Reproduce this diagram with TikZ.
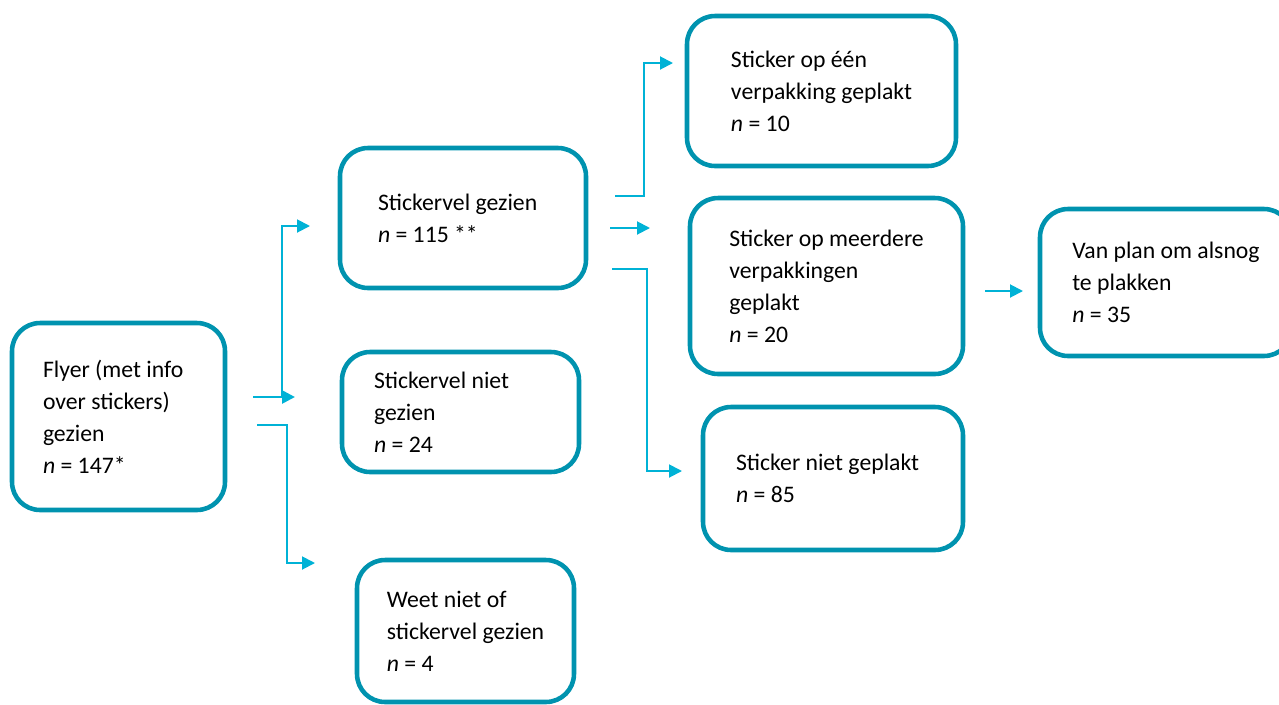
\documentclass[tikz,border=0pt]{standalone}
\usepackage{fontspec}
\setmainfont{Carlito}
\usepackage{tikz}
\usetikzlibrary{arrows.meta}
\definecolor{boxteal}{RGB}{0,147,175}
\definecolor{linecyan}{RGB}{0,178,214}
\tikzset{
  flowbox/.style={rectangle, draw=boxteal, line width=2.6pt,
    rounded corners=0.56cm, align=flush left, inner sep=0pt,
    font=\fontsize{13.5}{18.2}\selectfont},
  conn/.style={-{Triangle[length=0.26cm, width=0.26cm]},
    line width=1.1pt, color=linecyan}
}

\begin{document}
\begin{tikzpicture}[x=0.02cm, y=-0.02cm]
  \useasboundingbox (0,0) rectangle (1279,704);
  % ── Boxes ─────────────────────────────────────────────────────────────────
  \node[flowbox, minimum width=4.26cm, minimum height=3.74cm, text width=3.02cm] (flyer) at (118.5,416.5)
    {Flyer (met info\\over stickers)\\gezien\\\textit{n} = 147*};
  \node[flowbox, minimum width=4.92cm, minimum height=2.8cm, text width=3.4cm] (gezien) at (463,218)
    {Stickervel gezien\\\textit{n} = 115 **};
  \node[flowbox, minimum width=4.74cm, minimum height=2.4cm, text width=3.46cm] (nietgezien) at (460.5,412)
    {Stickervel niet\\gezien\\\textit{n} = 24};
  \node[flowbox, minimum width=4.34cm, minimum height=2.84cm] (weetniet) at (465.5,631)
    {Weet niet of\\stickervel gezien\\\textit{n} = 4};
  \node[flowbox, minimum width=5.38cm, minimum height=3.0cm] (een) at (821.5,91)
    {Sticker op één\\verpakking geplakt\\\textit{n} = 10};
  \node[flowbox, minimum width=5.46cm, minimum height=3.52cm] (meerdere) at (826.5,286)
    {Sticker op meerdere\\verpakkingen\\geplakt\\\textit{n} = 20};
  \node[flowbox, minimum width=5.2cm, minimum height=2.86cm, text width=3.88cm] (nietgeplakt) at (833,478.5)
    {Sticker niet geplakt\\\textit{n} = 85};
  \node[flowbox, minimum width=5.04cm, minimum height=2.94cm] (vanplan) at (1166,282.5)
    {Van plan om alsnog\\te plakken\\\textit{n} = 35};

  % ── Connector ends (lines stop short of the boxes) ──────────────────────────
  \coordinate (flyout1) at (253,397);
  \coordinate (flyout2) at (257,425);
  \coordinate (toGez) at (310,226);
  \coordinate (toNiet) at (295,397);
  \coordinate (toWeet) at (315,563);
  \coordinate (gzout1) at (615,196);
  \coordinate (gzout2) at (610,228);
  \coordinate (gzout3) at (612,269);
  \coordinate (toEen) at (673,63);
  \coordinate (toMeer) at (650,228);
  \coordinate (toNgp) at (682,471);
  \coordinate (mrout) at (985,291);
  \coordinate (toVan) at (1023,291);

  % ── Connectors ──────────────────────────────────────────────────────────────
  \draw[conn] (flyout1) -- ++(29,0) |- (toGez);
  \draw[conn, line width=1.5pt] (flyout1) -- (toNiet);
  \draw[conn] (flyout2) -- ++(30,0) |- (toWeet);
  \draw[conn] (gzout1) -- ++(29,0) |- (toEen);
  \draw[conn] (gzout2) -- (toMeer);
  \draw[conn] (gzout3) -- ++(35,0) |- (toNgp);
  \draw[conn] (mrout) -- (toVan);
\end{tikzpicture}
\end{document}
